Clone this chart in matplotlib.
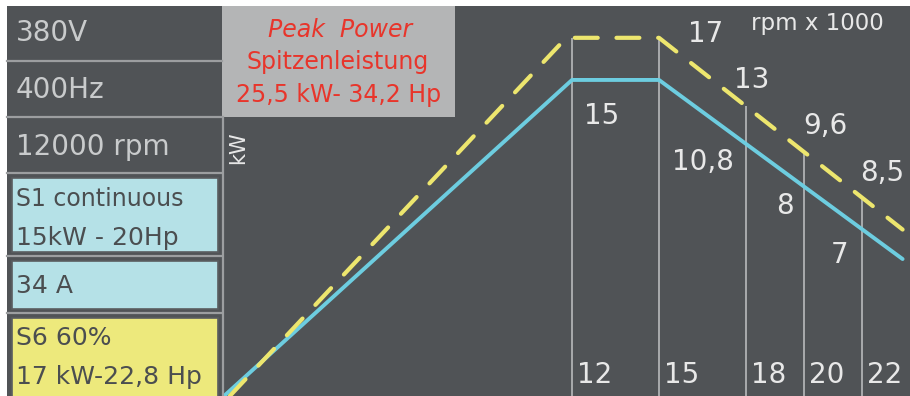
import numpy as np
import matplotlib.pyplot as plt
from matplotlib.patches import Rectangle

plt.rcParams['font.family'] = ['DejaVu Sans']

# curve vertices (rpm x 1000, kW)
s1_rpm = [0, 12, 15, 23.4]
s1_kw = [0, 15, 15, 6.5]
s6_rpm = [0.2, 11.8, 15.0, 23.4]
s6_kw = [0, 17, 17, 7.9]

rpm_ticks = [12, 15, 18, 20, 22]
s1_labels = ['15', '10,8', '8', '7']
s6_labels = ['17', '13', '9,6', '8,5']

info_rows = ['380V', '400Hz', '12000 rpm']
s1_text = ['S1 continuous', '15kW - 20Hp']
current_text = '34 A'
s6_text = ['S6 60%', '17 kW-22,8 Hp']
peak_text = ['Peak  Power', 'Spitzenleistung', '25,5 kW- 34,2 Hp']

DARK = '#505356'
SEP = '#9c9ea0'
LIGHT_TXT = '#c9cbcc'
WHITE_TXT = '#e8e8e8'
BLUE = '#6dcde0'
YELLOW = '#ede66e'
RED = '#e8352b'

W, H = 910, 396
fig = plt.figure(figsize=(W / 100, H / 100), dpi=100, facecolor='white')

# background panel in pixel coordinates
bg = fig.add_axes([0, 0, 1, 1])
bg.set_xlim(0, W)
bg.set_ylim(H, 0)
bg.axis('off')
bg.add_patch(Rectangle((7, 6), W - 7, H - 6, color=DARK, lw=0))
bg.add_patch(Rectangle((222, 6), 233, 111, color='#b4b5b6', lw=0))
for y in [61, 117, 173, 256, 313]:
    bg.plot([7, 222], [y, y], color=SEP, lw=1.6)
bg.plot([223, 223], [117, H], color=SEP, lw=1.6)

boxes = [(178, 74, '#b5e1e7'), (261, 48, '#b5e1e7'), (318, 80, '#ede97c')]
for y0, h, c in boxes:
    bg.add_patch(Rectangle((12, y0), 206, h, facecolor=c, edgecolor='#5a5d60', lw=1.2))

for txt, y in zip(info_rows, [33, 90, 147]):
    bg.text(16, y, txt, color=LIGHT_TXT, fontsize=20, va='center', ha='left')

box_txt = '#4b4e50'
bg.text(16, 199, s1_text[0], color=box_txt, fontsize=17, va='center')
bg.text(16, 238, s1_text[1], color=box_txt, fontsize=18, va='center')
bg.text(16, 286, current_text, color=box_txt, fontsize=18, va='center')
bg.text(16, 338, s6_text[0], color=box_txt, fontsize=18, va='center')
bg.text(16, 377, s6_text[1], color=box_txt, fontsize=18, va='center')

bg.text(340, 30, peak_text[0], color=RED, fontsize=17, style='italic', ha='center', va='center')
bg.text(338, 62, peak_text[1], color=RED, fontsize=17, ha='center', va='center')
bg.text(339, 95, peak_text[2], color=RED, fontsize=17, ha='center', va='center')

bg.text(238, 148, 'kW', color=WHITE_TXT, fontsize=15, rotation=90, ha='center', va='center')

# chart axes: 0 rpm at x=224 px, 29 px per 1000 rpm; 0 kW at bottom, ~21 px per kW
x0 = 224
ax = fig.add_axes([x0 / W, 0, (W - x0) / W, (H - 6) / H])
ax.set_xlim(0, (W - x0) / 29)
ax.set_ylim(0, (H - 6) / 21.07)
ax.patch.set_alpha(0)
ax.axis('off')

top = np.interp(rpm_ticks, s6_rpm, s6_kw)
ax.vlines(rpm_ticks, 0, top, color='#a9abad', lw=1.4, zorder=1)

ax.plot(s1_rpm, s1_kw, color=BLUE, lw=2.8, solid_capstyle='round', solid_joinstyle='round', zorder=3)
ax.plot(s6_rpm, s6_kw, color=YELLOW, lw=3.0, dashes=(5.5, 4.5), dash_capstyle='round',
        dash_joinstyle='round', zorder=3)

for r in rpm_ticks:
    ax.annotate(str(r), xy=(r, 0), xytext=(5, 7), textcoords='offset pixels',
                color=WHITE_TXT, fontsize=20, ha='left', va='bottom')

s6_pos = [(16.62, 17.2), (18.21, 15.0), (20.72, 12.8), (22.69, 10.6)]
for lab, (x, y) in zip(s6_labels, s6_pos):
    ax.text(x, y, lab, color=WHITE_TXT, fontsize=20, ha='center', va='center')

s1_pos = [(13.03, 13.3), (16.52, 11.1), (19.34, 9.0), (21.24, 6.7)]
for lab, (x, y) in zip(s1_labels, s1_pos):
    ax.text(x, y, lab, color=WHITE_TXT, fontsize=20, ha='center', va='center')

ax.text(20.45, 17.7, 'rpm x 1000', color=WHITE_TXT, fontsize=16.5, ha='center', va='center')

fig.savefig('out.png', dpi=100, facecolor='white')
